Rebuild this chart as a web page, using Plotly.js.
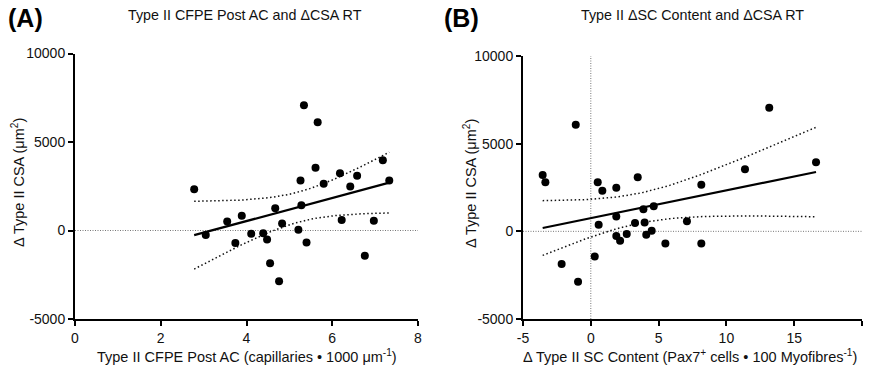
<!DOCTYPE html>
<html>
<head>
<meta charset="utf-8">
<script src="https://cdn.plot.ly/plotly-3.0.1.min.js"></script>
<style>html,body{margin:0;padding:0;background:#fff}#chart{width:869px;height:370px}</style>
</head>
<body>
<div id="chart"></div>
<script>
// Panel A: Type II CFPE Post AC vs ΔCSA
const cfpeA = [2.78, 3.05, 3.55, 3.89, 3.74, 4.11, 4.39, 4.48, 4.55, 4.67, 4.76, 4.83, 5.21, 5.26, 5.28, 5.34, 5.40, 5.61, 5.66, 5.80, 6.18, 6.22, 6.42, 6.58, 6.76, 6.97, 7.18, 7.33];
const csaA = [2330, -260, 510, 830, -700, -190, -160, -510, -1850, 1260, -2870, 400, 40, 2820, 1420, 7070, -680, 3550, 6120, 2640, 3230, 590, 2490, 3090, -1420, 550, 3970, 2830];
// Panel B: ΔSC content vs ΔCSA
const scB = [-3.55, -3.35, -2.15, -1.11, -0.94, 0.29, 0.51, 0.58, 0.85, 1.88, 1.88, 1.88, 2.16, 2.65, 3.26, 3.46, 3.88, 3.97, 4.09, 4.49, 4.64, 5.50, 7.09, 8.15, 8.15, 11.37, 13.16, 16.61];
const csaB = [3220, 2800, -1870, 6080, -2880, -1430, 2800, 380, 2320, 840, -270, 2490, -530, -150, 480, 3090, 1260, 510, -190, 40, 1430, -700, 570, 2650, -690, 3540, 7050, 3940];

const xTicksA = [0, 2, 4, 6, 8];
const xTicksB = [-5, 0, 5, 10, 15, 20];
const yTicks = [-5000, 0, 5000, 10000];
const yTickText = ['-5000', '0', '5000', '10000'];

const T95 = 2.0555; // t(0.975, df=26)

function fit(xs, ys) {
  const n = xs.length;
  const mx = xs.reduce((a, b) => a + b, 0) / n;
  const my = ys.reduce((a, b) => a + b, 0) / n;
  let sxx = 0, sxy = 0;
  for (let i = 0; i < n; i++) { sxx += (xs[i] - mx) ** 2; sxy += (xs[i] - mx) * (ys[i] - my); }
  const b = sxy / sxx, a = my - b * mx;
  let sse = 0;
  for (let i = 0; i < n; i++) sse += (ys[i] - a - b * xs[i]) ** 2;
  const s = Math.sqrt(sse / (n - 2));
  const lo = Math.min(...xs), hi = Math.max(...xs);
  const gx = [], gy = [], up = [], dn = [];
  const steps = 60;
  for (let k = 0; k <= steps; k++) {
    const x = lo + (hi - lo) * k / steps;
    const y = a + b * x;
    const h = T95 * s * Math.sqrt(1 / n + (x - mx) ** 2 / sxx);
    gx.push(x); gy.push(y); up.push(y + h); dn.push(y - h);
  }
  return {gx, gy, up, dn};
}

const fA = fit(cfpeA, csaA);
const fB = fit(scB, csaB);

function traces(xs, ys, f, xa, ya) {
  const band = {color: '#111', width: 1.5, dash: '1.5px,2.5px'};
  return [
    {x: f.gx, y: f.up, xaxis: xa, yaxis: ya, mode: 'lines', line: band, hoverinfo: 'skip'},
    {x: f.gx, y: f.dn, xaxis: xa, yaxis: ya, mode: 'lines', line: band, hoverinfo: 'skip'},
    {x: f.gx, y: f.gy, xaxis: xa, yaxis: ya, mode: 'lines', line: {color: '#000', width: 2.2}, hoverinfo: 'skip'},
    {x: xs, y: ys, xaxis: xa, yaxis: ya, mode: 'markers', marker: {color: '#000', size: 8}}
  ];
}

const data = [].concat(traces(cfpeA, csaA, fA, 'x', 'y'), traces(scB, csaB, fB, 'x2', 'y2'));

const W = 869, H = 370;
const px = v => v / W, py = v => 1 - v / H;
const FAM = 'Liberation Sans, Arial, sans-serif';
const tickFont = {family: FAM, size: 14, color: '#111'};
const axisBase = {
  showline: true, linecolor: '#000', linewidth: 2, ticks: 'outside', ticklen: 5, tickwidth: 2,
  tickcolor: '#000', showgrid: false, zeroline: false, tickfont: tickFont, tickmode: 'array', fixedrange: true
};

const textFont = {family: FAM, size: 14.5, color: '#111'};
const titleFont = {family: FAM, size: 14.3, color: '#111'};
const labelFont = {family: FAM, size: 25, color: '#000', weight: 'bold'};
const zl = {color: '#777', width: 1, dash: '1px,1.5px'};

const layout = {
  width: W, height: H, margin: {l: 0, r: 0, t: 0, b: 0},
  paper_bgcolor: '#fff', plot_bgcolor: '#fff', showlegend: false,
  xaxis: Object.assign({}, axisBase, {domain: [px(75), px(418)], range: [0, 8], tickvals: xTicksA, ticktext: xTicksA.map(String), anchor: 'y'}),
  yaxis: Object.assign({}, axisBase, {domain: [py(319), py(53.5)], range: [-5000, 10000], tickvals: yTicks, ticktext: yTickText, anchor: 'x'}),
  xaxis2: Object.assign({}, axisBase, {domain: [px(523), px(862)], range: [-5, 20], tickvals: xTicksB, ticktext: xTicksB.map(String), anchor: 'y2'}),
  yaxis2: Object.assign({}, axisBase, {domain: [py(319), py(56)], range: [-5000, 10000], tickvals: yTicks, ticktext: yTickText, anchor: 'x2'}),
  shapes: [
    {type: 'line', xref: 'x', yref: 'y', x0: 0, x1: 8, y0: 0, y1: 0, line: zl, layer: 'below'},
    {type: 'line', xref: 'x2', yref: 'y2', x0: -5, x1: 20, y0: 0, y1: 0, line: zl, layer: 'below'},
    {type: 'line', xref: 'x2', yref: 'y2', x0: 0, x1: 0, y0: -5000, y1: 10000, line: zl, layer: 'below'}
  ],
  annotations: [
    {text: '(A)', xref: 'paper', yref: 'paper', x: px(6), y: py(18), xanchor: 'left', yanchor: 'middle', showarrow: false, font: labelFont},
    {text: '(B)', xref: 'paper', yref: 'paper', x: px(442), y: py(18), xanchor: 'left', yanchor: 'middle', showarrow: false, font: labelFont},
    {text: 'Type II CFPE Post AC and ΔCSA RT', xref: 'paper', yref: 'paper', x: px(245), y: py(15), xanchor: 'center', yanchor: 'middle', showarrow: false, font: titleFont},
    {text: 'Type II ΔSC Content and ΔCSA RT', xref: 'paper', yref: 'paper', x: px(692), y: py(15), xanchor: 'center', yanchor: 'middle', showarrow: false, font: titleFont},
    {text: 'Type II CFPE Post AC (capillaries • 1000 μm<sup>-1</sup>)', xref: 'paper', yref: 'paper', x: px(247), y: py(356), xanchor: 'center', yanchor: 'middle', showarrow: false, font: textFont},
    {text: 'Δ Type II SC Content (Pax7<sup>+</sup> cells • 100 Myofibres<sup>-1</sup>)', xref: 'paper', yref: 'paper', x: px(690), y: py(356), xanchor: 'center', yanchor: 'middle', showarrow: false, font: textFont},
    {text: 'Δ Type II CSA (μm<sup>2</sup>)', xref: 'paper', yref: 'paper', x: px(18), y: py(183), xanchor: 'center', yanchor: 'middle', textangle: -90, showarrow: false, font: textFont},
    {text: 'Δ Type II CSA (μm<sup>2</sup>)', xref: 'paper', yref: 'paper', x: px(470), y: py(183), xanchor: 'center', yanchor: 'middle', textangle: -90, showarrow: false, font: textFont}
  ]
};

Plotly.newPlot('chart', data, layout, {displayModeBar: false, staticPlot: true});
</script>
</body>
</html>
